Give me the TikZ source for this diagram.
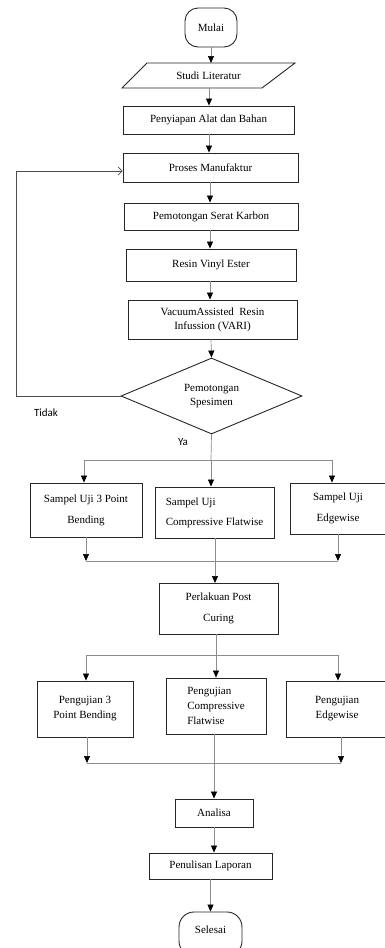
\documentclass[tikz,border=0pt]{standalone}
\usepackage{fontspec}
\setmainfont{Liberation Serif}
\newfontfamily\sansf{Carlito}
\usetikzlibrary{arrows.meta,shapes.geometric}
\tikzset{
  box/.style={draw=black!85, line width=0.9pt, inner sep=1pt, font=\fontsize{11}{15}\selectfont, align=center},
  conn/.style={draw=black!45, line width=0.7pt},
  arr/.style={conn, -{Triangle[width=6pt,length=7pt,color=black]}},
  loop/.style={draw=black!70, line width=0.7pt, -{Straight Barb[length=4pt,width=8pt]}},
  lbl/.style={font=\sansf\fontsize{11}{13}\selectfont, inner sep=0pt}
}
\begin{document}
\begin{tikzpicture}[x=1pt,y=-1pt]
\useasboundingbox (0,0) rectangle (385,948);
% terminals
\node[box, rounded corners=13pt, minimum width=52pt, minimum height=39pt] (mulai) at (211,27.5) {Mulai};
% studi literatur parallelogram
\node[inner sep=0pt, minimum width=120pt, minimum height=25pt, font=\fontsize{11}{15}\selectfont] (studi) at (208.5,75.5) {Studi Literatur};
\draw[draw=black!85, line width=0.9pt] (122,88) -- (147,63) -- (295,63) -- (262,88) -- cycle;
\node[box, minimum width=171pt, minimum height=28pt] (siap) at (208.5,120) {Penyiapan Alat dan Bahan};
\node[box, minimum width=175pt, minimum height=29pt] (proses) at (210.5,167.5) {Proses Manufaktur};
\node[box, minimum width=174pt, minimum height=27pt] (serat) at (211,216.5) {Pemotongan Serat Karbon};
\node[box, minimum width=170pt, minimum height=32pt] (resin) at (211,265) {Resin Vinyl Ester};
\node[box, minimum width=169pt, minimum height=39pt, font=\fontsize{11}{14}\selectfont] (vari) at (212.5,319.5) {VacuumAssisted\ \ Resin\\Infussion (VARI)};
\node[diamond, draw=black!85, line width=0.9pt, aspect=2.38, minimum width=181pt, minimum height=76pt, inner sep=0pt, align=center, font=\fontsize{11}{14}\selectfont] (dec) at (211.5,396) {Pemotongan\\Spesimen};
% sample boxes
\node[box, minimum width=112pt, minimum height=54pt, font=\fontsize{11}{21}\selectfont] (s1) at (86,510) {Sampel Uji 3 Point\\Bending};
\node[box, minimum width=119pt, minimum height=51pt, align=left, font=\fontsize{11}{20}\selectfont] (s2) at (214.5,512.5) {Sampel Uji\\Compressive Flatwise};
\node[box, minimum width=96pt, minimum height=51pt, font=\fontsize{11}{21}\selectfont] (s3) at (338,508.5) {Sampel Uji\\Edgewise};
\node[box, minimum width=119pt, minimum height=51pt, font=\fontsize{11}{21}\selectfont] (post) at (218.5,608.5) {Perlakuan Post\\Curing};
% test boxes
\node[box, minimum width=96pt, minimum height=56pt, font=\fontsize{11}{15}\selectfont] (p1) at (85,709) {Pengujian 3\\Point Bending};
\node[box, minimum width=100pt, minimum height=56pt, align=left, font=\fontsize{11}{15}\selectfont] (p2) at (216,706) {Pengujian\\Compressive\\Flatwise};
\node[box, minimum width=102pt, minimum height=56pt, font=\fontsize{11}{15}\selectfont] (p3) at (337,709) {Pengujian\\Edgewise};
\node[box, minimum width=78pt, minimum height=28pt] (analisa) at (214,813) {Analisa};
\node[box, minimum width=123pt, minimum height=26pt] (tulis) at (210.5,866) {Penulisan Laporan};
\node[box, rounded corners=15pt, minimum width=63pt, minimum height=44pt] (selesai) at (210.5,934) {};
\node[font=\fontsize{11}{15}\selectfont] at (210.5,930) {Selesai};
% labels
\node[lbl] (tidak) at (46,413) {Tidak};
\node[lbl] (ya) at (183,442) {Ya};
% coordinates
\coordinate (b1) at (211,460);
\coordinate (b1l) at (84,460);
\coordinate (b1r) at (332,460);
\coordinate (m1l) at (86,561);
\coordinate (m1r) at (338,561);
\coordinate (b2) at (216,655);
\coordinate (b2l) at (86,655);
\coordinate (b2r) at (338,655);
\coordinate (m2l) at (87,763);
\coordinate (m2r) at (341,763);
\coordinate (lp1) at (16,396);
\coordinate (lp2) at (16,171);
% main arrows
\draw[arr] (mulai.south) -- (mulai.south |- 63,63);
\draw[arr] (209,88) -- (siap.north -| 209,0);
\draw[arr] (209,134) -- (proses.north -| 209,0);
\draw[arr] (210,182) -- (serat.north -| 210,0);
\draw[arr] (210,230) -- (resin.north -| 210,0);
\draw[arr] (210,281) -- (vari.north -| 210,0);
\draw[arr] (211,339) -- (dec.north);
% loop back
\draw[conn, draw=black!70] (dec.west) -- (lp1) -- (lp2);
\draw[loop] (lp2) -- (proses.west |- lp2);
% branch 1
\draw[conn] (dec.south) -- (b1);
\draw[conn] (b1l) -- (b1r);
\draw[arr] (b1l) -- (b1l |- s1.north);
\draw[arr] (b1) -- (b1 |- s2.north);
\draw[arr] (b1r) -- (b1r |- s3.north);
% merge 1
\draw[arr] (m1l |- s1.south) -- (m1l);
\draw[arr] (m1r |- s3.south) -- (m1r);
\draw[conn] (m1l) -- (m1r);
\draw[arr] (215,538) -- (215,583);
% branch 2
\draw[conn] (b2 |- post.south) -- (b2);
\draw[conn] (b2l) -- (b2r);
\draw[arr] (b2l) -- (b2l |- p1.north);
\draw[arr] (b2) -- (b2 |- p2.north);
\draw[arr] (b2r) -- (b2r |- p3.north);
% merge 2
\draw[arr] (m2l |- p1.south) -- (m2l);
\draw[arr] (m2r |- p3.south) -- (m2r);
\draw[conn] (m2l) -- (m2r);
\draw[arr] (214,734) -- (analisa.north);
\draw[arr] (analisa.south) -- (tulis.north -| 214,0);
\draw[arr] (tulis.south) -- (selesai.north);
\end{tikzpicture}
\end{document}
